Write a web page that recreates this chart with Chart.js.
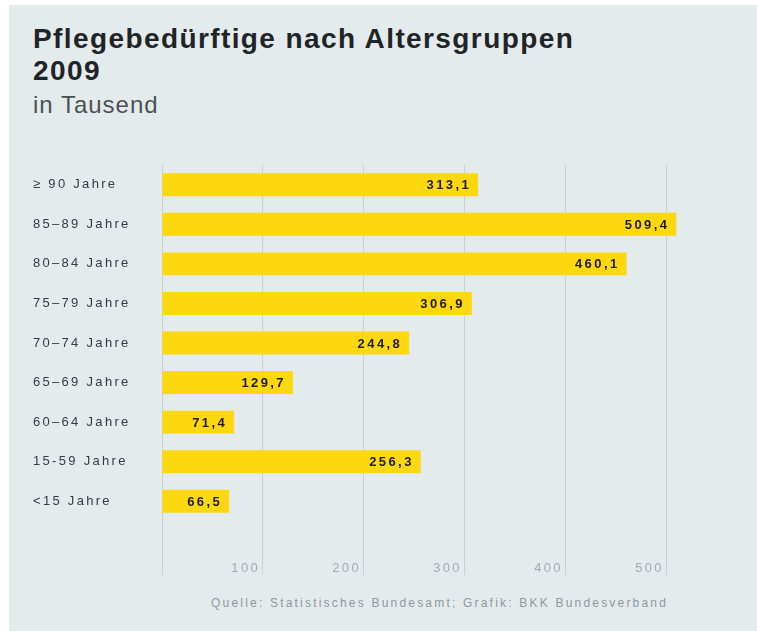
<!DOCTYPE html>
<html lang="de">
<head>
<meta charset="utf-8">
<script src="https://cdn.jsdelivr.net/npm/chart.js@4"></script>
<style>
  html, body { margin: 0; padding: 0; background: #ffffff; }
  #wrap { position: relative; width: 757px; height: 631px; overflow: hidden; }
  #panel { position: absolute; left: 9px; top: 5px; width: 748px; height: 626px; background: #e4ebed; }
  .txt { position: absolute; font-family: "Liberation Sans", Arial, sans-serif; white-space: nowrap; }
  #title { left: 33px; top: 23px; font-size: 28px; font-weight: bold; line-height: 32px; color: #1f2427; letter-spacing: 1.4px; }
  #unit { left: 33px; top: 91px; font-size: 24px; line-height: 28px; color: #4b5154; letter-spacing: 1px; }
  #source { left: 211px; top: 595px; font-size: 12px; line-height: 16px; color: #8f989d; letter-spacing: 2.2px; }
  canvas { position: absolute; left: 0; top: 0; }
</style>
</head>
<body>
<div id="wrap">
  <div id="panel"></div>
  <div class="txt" id="title">Pflegebedürftige nach Altersgruppen<br>2009</div>
  <div class="txt" id="unit">in Tausend</div>
  <div class="txt" id="source">Quelle: Statistisches Bundesamt; Grafik: BKK Bundesverband</div>
  <canvas id="chart" width="757" height="631"></canvas>
</div>
<script>
// Altersgruppen (von oben nach unten)
const ageGroups = ["≥ 90 Jahre", "85–89 Jahre", "80–84 Jahre", "75–79 Jahre", "70–74 Jahre",
                   "65–69 Jahre", "60–64 Jahre", "15-59 Jahre", "<15 Jahre"];
// Pflegebedürftige in Tausend
const careValues = [313.1, 509.4, 460.1, 306.9, 244.8, 129.7, 71.4, 256.3, 66.5];
// Achsenbeschriftung
const xTickValues = [100, 200, 300, 400, 500];

const formatDe = v => v.toFixed(1).replace(".", ",");

// Laufweite der Achsenbeschriftung
const spacingPlugin = {
    id: "spacing",
    beforeDraw(chart) {
        chart.ctx.letterSpacing = "2.3px";
    },
};

// Werte rechts in den Balken
const valueLabels = {
    id: "valueLabels",
    afterDatasetsDraw(chart) {
        const ctx = chart.ctx;
        const meta = chart.getDatasetMeta(0);
        ctx.save();
        ctx.letterSpacing = "2.4px";
        ctx.font = "bold 13px 'Liberation Sans', Arial, sans-serif";
        ctx.fillStyle = "#1c1c1a";
        ctx.textAlign = "right";
        ctx.textBaseline = "middle";
        meta.data.forEach((bar, i) => {
            ctx.fillText(formatDe(careValues[i]), bar.x - 7, bar.y + 1);
        });
        ctx.restore();
    },
};

new Chart(document.getElementById("chart"), {
    type: "bar",
    data: {
        labels: ageGroups,
        datasets: [{
            data: careValues,
            backgroundColor: "#fdd80f",
            borderWidth: 0,
            categoryPercentage: 1,
            barPercentage: 0.58,
        }],
    },
    options: {
        indexAxis: "y",
        responsive: false,
        animation: false,
        events: [],
        layout: { padding: { left: 33, top: 165, right: 70, bottom: 56 } },
        plugins: {
            legend: { display: false },
            tooltip: { enabled: false },
        },
        scales: {
            x: {
                position: "bottom",
                min: 0,
                max: 520,
                afterFit(scale) { scale.height = 54; },
                afterBuildTicks(scale) {
                    scale.ticks = [0].concat(xTickValues).map(v => ({ value: v }));
                },
                border: { display: false },
                grid: {
                    color: "#c9d1d5",
                    lineWidth: 1,
                    drawTicks: true,
                    tickLength: 54,
                },
                ticks: {
                    align: "end",
                    labelOffset: -3,
                    padding: -14,
                    color: "#a3acb1",
                    font: { family: "'Liberation Sans', Arial, sans-serif", size: 13 },
                    callback: v => (v === 0 ? "" : String(v)),
                },
            },
            y: {
                afterFit(scale) { scale.width = 129; },
                border: { display: false },
                grid: { display: false, drawTicks: false },
                ticks: {
                    crossAlign: "far",
                    color: "#353b3f",
                    font: { family: "'Liberation Sans', Arial, sans-serif", size: 13 },
                },
            },
        },
    },
    plugins: [spacingPlugin, valueLabels],
});
</script>
</body>
</html>
